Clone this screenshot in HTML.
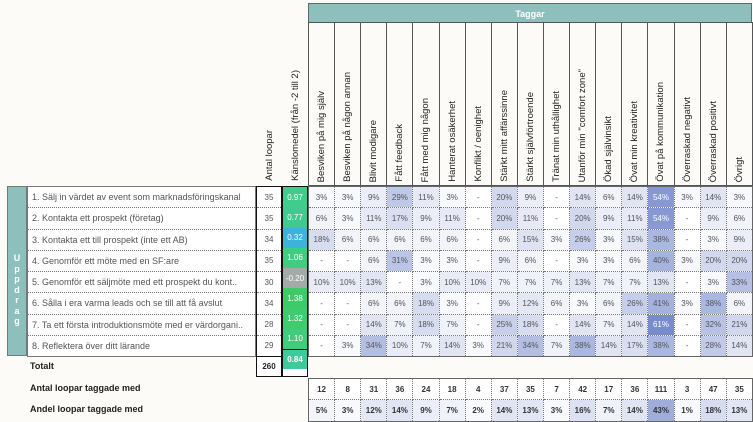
<!DOCTYPE html><html><head><meta charset="utf-8"><style>
body{margin:0;width:753px;height:422px;background:#fcfbf7;font-family:"Liberation Sans",sans-serif;position:relative;overflow:hidden;color:#555}
.a{position:absolute}
.hc{display:flex;justify-content:center;align-items:flex-end;height:162px}
.rot{writing-mode:vertical-rl;transform:rotate(180deg);font-size:9.5px;color:#222;white-space:nowrap;padding-top:3px}
table{border-collapse:collapse;table-layout:fixed}
td{padding:0;text-align:center;font-size:8px;border:1px dotted #777;overflow:hidden;white-space:nowrap}
.h td{border:1px solid #555}
.g td{height:20.25px}
.lab td{text-align:left;padding-left:4px;font-size:9px;color:#555;background:#fff}
.w{color:#fff}
.c3{background:#f8f9fd}.c5{background:#f4f5fb}.c6{background:#f2f4fa}.c7{background:#eff2f9}.c9{background:#ebeef8}.c10{background:#e9ecf7}.c11{background:#e7eaf6}.c12{background:#e4e8f5}.c13{background:#e2e6f4}.c14{background:#e0e4f3}.c15{background:#dee2f3}.c16{background:#dbe1f2}.c17{background:#d9dff1}.c18{background:#d7ddf0}.c20{background:#d2d9ef}.c21{background:#d0d7ee}.c25{background:#c7cfea}.c26{background:#c5ceea}.c28{background:#c1cae8}.c29{background:#bec8e7}.c31{background:#bac4e6}.c32{background:#b8c2e5}.c33{background:#b6c0e4}.c34{background:#b3bee3}.c38{background:#aab7e0}.c40{background:#a6b3de}.c41{background:#a4b1dd}.c43{background:#9fadd9}.c54{background:#8798d3}.c61{background:#778bcd}
.n{background:#fff}
</style></head><body>
<div class="a" style="left:308px;top:3px;width:444px;height:20px;background:#8dc0bc;color:#fff;font-weight:bold;font-size:9px;text-align:center;line-height:20px;border:1px solid #666;box-sizing:border-box">Taggar</div>
<div class="a" style="left:308px;top:22px;width:445px;height:164px">
<table class="h" style="width:445px;height:164px;border:1px solid #555"><tr>
<td><div class="hc"><span class="rot">Besviken på mig själv</span></div></td>
<td><div class="hc"><span class="rot">Besviken på någon annan</span></div></td>
<td><div class="hc"><span class="rot">Blivit modigare</span></div></td>
<td><div class="hc"><span class="rot">Fått feedback</span></div></td>
<td><div class="hc"><span class="rot">Fått med mig någon</span></div></td>
<td><div class="hc"><span class="rot">Hanterat osäkerhet</span></div></td>
<td><div class="hc"><span class="rot">Konflikt / oenighet</span></div></td>
<td><div class="hc"><span class="rot">Stärkt mitt affärssinne</span></div></td>
<td><div class="hc"><span class="rot">Stärkt självförtroende</span></div></td>
<td><div class="hc"><span class="rot">Tränat min uthållighet</span></div></td>
<td><div class="hc"><span class="rot">Utanför min "comfort zone"</span></div></td>
<td><div class="hc"><span class="rot">Ökad självinsikt</span></div></td>
<td><div class="hc"><span class="rot">Övat min kreativitet</span></div></td>
<td><div class="hc"><span class="rot">Övat på kommunikation</span></div></td>
<td><div class="hc"><span class="rot">Överraskad negativt</span></div></td>
<td><div class="hc"><span class="rot">Överraskad positivt</span></div></td>
<td><div class="hc"><span class="rot">Övrigt</span></div></td>
</tr></table></div>
<div class="a" style="left:256px;top:22px;width:26px"><div class="hc"><span class="rot">Antal loopar</span></div></div>
<div class="a" style="left:282px;top:22px;width:26px"><div class="hc"><span class="rot">Känslomedel (från -2 till 2)</span></div></div>

<div class="a" style="left:7px;top:186px;width:20px;height:170px;background:#8dc0bc;border:1px solid #777;box-sizing:border-box;color:#fff;font-weight:bold;font-size:9px;text-align:center;line-height:10.5px;padding-top:66px">U<br>p<br>p<br>d<br>r<br>a<br>g</div>
<div class="a" style="left:27px;top:186px"><table class="g lab" style="width:229px;border:1px solid #777"><tr><td>1. Sälj in värdet av event som marknadsföringskanal</td></tr><tr><td>2. Kontakta ett prospekt (företag)</td></tr><tr><td>3. Kontakta ett till prospekt (inte ett AB)</td></tr><tr><td>4. Genomför ett möte med en SF:are</td></tr><tr><td>5. Genomför ett säljmöte med ett prospekt du kont..</td></tr><tr><td>6. Sålla i era varma leads och se till att få avslut</td></tr><tr><td>7. Ta ett första introduktionsmöte med er värdorgani..</td></tr><tr><td>8. Reflektera över ditt lärande</td></tr></table></div>

<div class="a" style="left:256px;top:186px;width:26px;height:191px;border:1px solid #111;box-sizing:border-box;background:#fff"><table class="g" style="width:24px"><tr><td style="border-left:0;border-right:0;border-top:0">35</td></tr><tr><td style="border-left:0;border-right:0">35</td></tr><tr><td style="border-left:0;border-right:0">34</td></tr><tr><td style="border-left:0;border-right:0">35</td></tr><tr><td style="border-left:0;border-right:0">30</td></tr><tr><td style="border-left:0;border-right:0">34</td></tr><tr><td style="border-left:0;border-right:0">28</td></tr><tr><td style="border-left:0;border-right:0;border-bottom:1px solid #111">29</td></tr><tr><td style="border:0;font-weight:bold;color:#222;height:19px">260</td></tr></table></div>
<div class="a" style="left:282px;top:186px;width:26px;height:191px;border:1px solid #111;box-sizing:border-box;background:#fff"><table class="g" style="width:24px;color:#fff"><tr><td style="background:#40cc8a;border:0">0.97</td></tr><tr><td style="background:#42c990;border:0">0.77</td></tr><tr><td style="background:#3db2da;border:0">0.32</td></tr><tr><td style="background:#3fcd82;border:0">1.06</td></tr><tr><td style="background:#a2aba8;border:0">-0.20</td></tr><tr><td style="background:#3ecb67;border:0">1.38</td></tr><tr><td style="background:#3ecc6f;border:0">1.32</td></tr><tr><td style="background:#3fcd7d;border:0;border-bottom:1px solid #111">1.10</td></tr><tr><td style="background:#40c99a;border:0;font-weight:bold;height:19px">0.84</td></tr></table></div>
<div class="a" style="left:30px;top:361px;font-size:9px;font-weight:bold;color:#222">Totalt</div>

<div class="a" style="left:308px;top:186px"><table class="g" style="width:445px;border:1px solid #666">
<tr><td class="c3">3%</td><td class="c3">3%</td><td class="c9">9%</td><td class="c29">29%</td><td class="c11">11%</td><td class="c3">3%</td><td class="n">-</td><td class="c20">20%</td><td class="c9">9%</td><td class="n">-</td><td class="c14">14%</td><td class="c6">6%</td><td class="c14">14%</td><td class="c54 w">54%</td><td class="c3">3%</td><td class="c14">14%</td><td class="c3">3%</td></tr>
<tr><td class="c6">6%</td><td class="c3">3%</td><td class="c11">11%</td><td class="c17">17%</td><td class="c9">9%</td><td class="c11">11%</td><td class="n">-</td><td class="c20">20%</td><td class="c11">11%</td><td class="n">-</td><td class="c20">20%</td><td class="c9">9%</td><td class="c11">11%</td><td class="c54 w">54%</td><td class="n">-</td><td class="c9">9%</td><td class="c6">6%</td></tr>
<tr><td class="c18">18%</td><td class="c6">6%</td><td class="c6">6%</td><td class="c6">6%</td><td class="c6">6%</td><td class="c6">6%</td><td class="n">-</td><td class="c6">6%</td><td class="c15">15%</td><td class="c3">3%</td><td class="c26">26%</td><td class="c3">3%</td><td class="c15">15%</td><td class="c38">38%</td><td class="n">-</td><td class="c3">3%</td><td class="c9">9%</td></tr>
<tr><td class="n">-</td><td class="n">-</td><td class="c6">6%</td><td class="c31">31%</td><td class="c3">3%</td><td class="c3">3%</td><td class="n">-</td><td class="c9">9%</td><td class="c6">6%</td><td class="n">-</td><td class="c3">3%</td><td class="c3">3%</td><td class="c6">6%</td><td class="c40">40%</td><td class="c3">3%</td><td class="c20">20%</td><td class="c20">20%</td></tr>
<tr><td class="c10">10%</td><td class="c10">10%</td><td class="c13">13%</td><td class="n">-</td><td class="c3">3%</td><td class="c10">10%</td><td class="c10">10%</td><td class="c7">7%</td><td class="c7">7%</td><td class="c7">7%</td><td class="c13">13%</td><td class="c7">7%</td><td class="c7">7%</td><td class="c13">13%</td><td class="n">-</td><td class="c3">3%</td><td class="c33">33%</td></tr>
<tr><td class="n">-</td><td class="n">-</td><td class="c6">6%</td><td class="c6">6%</td><td class="c18">18%</td><td class="c3">3%</td><td class="n">-</td><td class="c9">9%</td><td class="c12">12%</td><td class="c6">6%</td><td class="c3">3%</td><td class="c6">6%</td><td class="c26">26%</td><td class="c41">41%</td><td class="c3">3%</td><td class="c38">38%</td><td class="c6">6%</td></tr>
<tr><td class="n">-</td><td class="n">-</td><td class="c14">14%</td><td class="c7">7%</td><td class="c18">18%</td><td class="c7">7%</td><td class="n">-</td><td class="c25">25%</td><td class="c18">18%</td><td class="n">-</td><td class="c14">14%</td><td class="c7">7%</td><td class="c14">14%</td><td class="c61 w">61%</td><td class="n">-</td><td class="c32">32%</td><td class="c21">21%</td></tr>
<tr><td class="n">-</td><td class="c3">3%</td><td class="c34">34%</td><td class="c10">10%</td><td class="c7">7%</td><td class="c14">14%</td><td class="c3">3%</td><td class="c21">21%</td><td class="c34">34%</td><td class="c7">7%</td><td class="c38">38%</td><td class="c14">14%</td><td class="c17">17%</td><td class="c38">38%</td><td class="n">-</td><td class="c28">28%</td><td class="c14">14%</td></tr>
</table></div>

<div class="a" style="left:30px;top:383px;font-size:9px;font-weight:bold;color:#222">Antal loopar taggade med</div>
<div class="a" style="left:30px;top:404px;font-size:9px;font-weight:bold;color:#222">Andel loopar taggade med</div>
<div class="a" style="left:308px;top:378px"><table class="g" style="width:445px;border:1px solid #666;font-weight:bold;color:#333">
<tr><td class="n">12</td><td class="n">8</td><td class="n">31</td><td class="n">36</td><td class="n">24</td><td class="n">18</td><td class="n">4</td><td class="n">37</td><td class="n">35</td><td class="n">7</td><td class="n">42</td><td class="n">17</td><td class="n">36</td><td class="n">111</td><td class="n">3</td><td class="n">47</td><td class="n">35</td></tr>
<tr><td class="c5">5%</td><td class="c3">3%</td><td class="c12">12%</td><td class="c14">14%</td><td class="c9">9%</td><td class="c7">7%</td><td class="c3">2%</td><td class="c14">14%</td><td class="c13">13%</td><td class="c3">3%</td><td class="c16">16%</td><td class="c7">7%</td><td class="c14">14%</td><td class="c43">43%</td><td class="c3">1%</td><td class="c18">18%</td><td class="c13">13%</td></tr>
</table></div>
</body></html>
